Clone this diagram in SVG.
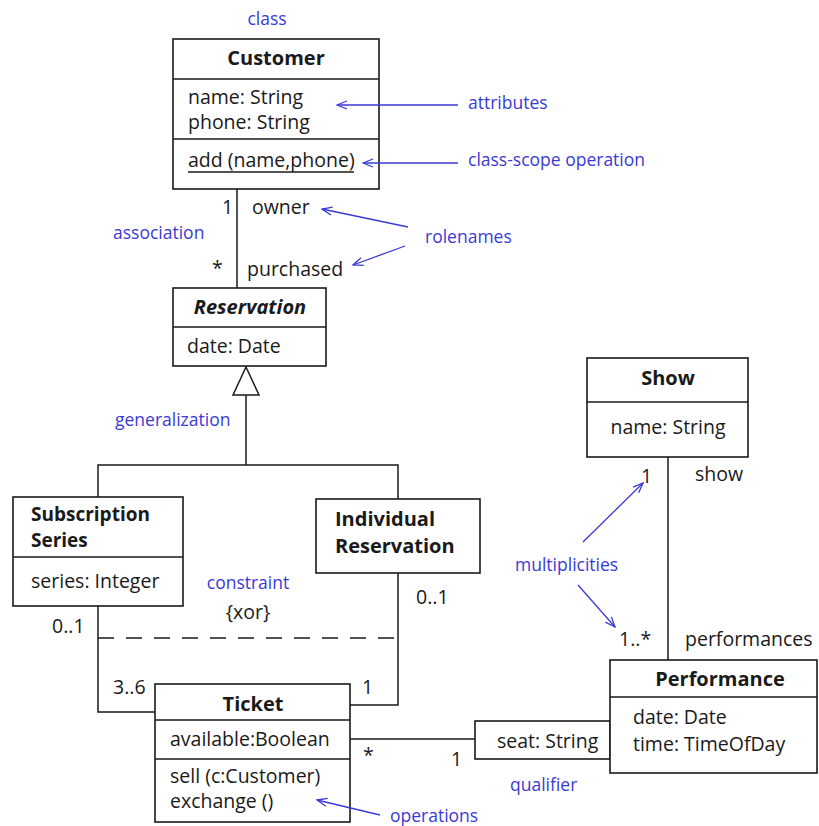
<svg xmlns="http://www.w3.org/2000/svg" width="819" height="826" viewBox="0 0 819 826">
<defs>
<style>
.box{fill:#fff;stroke:#1a1a1a;stroke-width:1.6}
.ln{fill:none;stroke:#1a1a1a;stroke-width:1.5}
.t{font-family:"Open Sans","Noto Sans",sans-serif;font-size:19.5px;fill:#1a1a1a}
.b{font-weight:bold;font-size:20px}
.c{text-anchor:middle}
.n{font-family:"Open Sans","Noto Sans",sans-serif;font-size:17.5px;fill:#3a3ad6}
.ar{fill:none;stroke:#3a3ad6;stroke-width:1.3;marker-end:url(#ah)}
</style>
<marker id="ah" viewBox="0 0 12 10" refX="11" refY="5" markerWidth="12" markerHeight="10" markerUnits="userSpaceOnUse" orient="auto">
<path d="M1,1 L11,5 L1,9" fill="none" stroke="#3a3ad6" stroke-width="1.3"/>
</marker>
</defs>
<rect width="819" height="826" fill="#fff"/>

<g id="connectors">
<line class="ln" x1="237" y1="189" x2="237" y2="288"/>
<polygon points="246,367 233,395 259,395" fill="#fff" stroke="#1a1a1a" stroke-width="1.5"/>
<polyline class="ln" points="246,395 246,465"/>
<polyline class="ln" points="98,497 98,465 398,465 398,499"/>
<polyline class="ln" points="98,606 98,712 155,712"/>
<polyline class="ln" points="398,573 398,705 350,705"/>
<line class="ln" x1="98" y1="638" x2="398" y2="638" stroke-dasharray="16,12"/>
<line class="ln" x1="350" y1="739" x2="475" y2="739"/>
<line class="ln" x1="668" y1="457" x2="668" y2="660"/>
</g>

<g id="customer">
<rect class="box" x="173" y="39" width="206" height="150"/>
<line class="ln" x1="173" y1="79" x2="379" y2="79"/>
<line class="ln" x1="173" y1="139" x2="379" y2="139"/>
<text class="t b c" x="276" y="65">Customer</text>
<text class="t" x="188" y="104">name: String</text>
<text class="t" x="188" y="129">phone: String</text>
<text class="t" x="188" y="167">add (name,phone)</text>
<line class="ln" x1="188" y1="172" x2="354" y2="172" stroke-width="1.3"/>
</g>

<g id="reservation">
<rect class="box" x="173" y="288" width="153" height="78"/>
<line class="ln" x1="173" y1="327" x2="326" y2="327"/>
<text class="t b c" x="250" y="314" font-style="italic">Reservation</text>
<text class="t" x="187" y="353">date: Date</text>
</g>

<g id="subscription">
<rect class="box" x="13" y="497" width="170" height="109"/>
<line class="ln" x1="13" y1="557" x2="183" y2="557"/>
<text class="t b" x="31" y="521" style="font-size:19px">Subscription</text>
<text class="t b" x="31" y="547" style="font-size:19px">Series</text>
<text class="t" x="31" y="588">series: Integer</text>
</g>

<g id="individual">
<rect class="box" x="316" y="499" width="164" height="74"/>
<text class="t b" x="335" y="526">Individual</text>
<text class="t b" x="335" y="553">Reservation</text>
</g>

<g id="ticket">
<rect class="box" x="155" y="684" width="195" height="138"/>
<line class="ln" x1="155" y1="720" x2="350" y2="720"/>
<line class="ln" x1="155" y1="759" x2="350" y2="759"/>
<text class="t b c" x="253" y="711">Ticket</text>
<text class="t" x="170" y="746">available:Boolean</text>
<text class="t" x="170" y="783">sell (c:Customer)</text>
<text class="t" x="170" y="808">exchange ()</text>
</g>

<g id="qualifier">
<rect class="box" x="475" y="721" width="135" height="38"/>
<text class="t" x="497" y="748">seat: String</text>
</g>

<g id="performance">
<rect class="box" x="610" y="660" width="207" height="113"/>
<line class="ln" x1="610" y1="697" x2="817" y2="697"/>
<text class="t b c" x="720" y="686">Performance</text>
<text class="t" x="633" y="724">date: Date</text>
<text class="t" x="633" y="751">time: TimeOfDay</text>
</g>

<g id="show">
<rect class="box" x="587" y="358" width="161" height="99"/>
<line class="ln" x1="587" y1="402" x2="748" y2="402"/>
<text class="t b c" x="668" y="385">Show</text>
<text class="t c" x="668" y="434">name: String</text>
</g>

<g id="labels">
<text class="t" x="222" y="214">1</text>
<text class="t" x="252" y="214">owner</text>
<text class="t" x="212" y="275">*</text>
<text class="t" x="247" y="276">purchased</text>
<text class="t" x="52" y="633">0..1</text>
<text class="t" x="416" y="604">0..1</text>
<text class="t" x="248" y="619" text-anchor="middle">{xor}</text>
<text class="t" x="113" y="694">3..6</text>
<text class="t" x="362" y="694">1</text>
<text class="t" x="363" y="762">*</text>
<text class="t" x="451" y="766">1</text>
<text class="t" x="641" y="483">1</text>
<text class="t" x="695" y="481">show</text>
<text class="t" x="619" y="646">1..*</text>
<text class="t" x="685" y="646">performances</text>
</g>

<g id="notes">
<text class="n" x="267" y="25" text-anchor="middle">class</text>
<text class="n" x="468" y="109">attributes</text>
<text class="n" x="468" y="166">class-scope operation</text>
<text class="n" x="113" y="239">association</text>
<text class="n" x="425" y="243">rolenames</text>
<text class="n" x="115" y="426">generalization</text>
<text class="n" x="248" y="589" text-anchor="middle">constraint</text>
<text class="n" x="515" y="571">multiplicities</text>
<text class="n" x="510" y="791">qualifier</text>
<text class="n" x="390" y="822">operations</text>
<path class="ar" d="M458,105 L337,105"/>
<path class="ar" d="M458,163 L363,163"/>
<path class="ar" d="M408,227 L322,209"/>
<path class="ar" d="M405,246 L353,265"/>
<path class="ar" d="M583,542 L643,483"/>
<path class="ar" d="M578,585 L615,627"/>
<path class="ar" d="M380,815 L317,800"/>
</g>
</svg>
